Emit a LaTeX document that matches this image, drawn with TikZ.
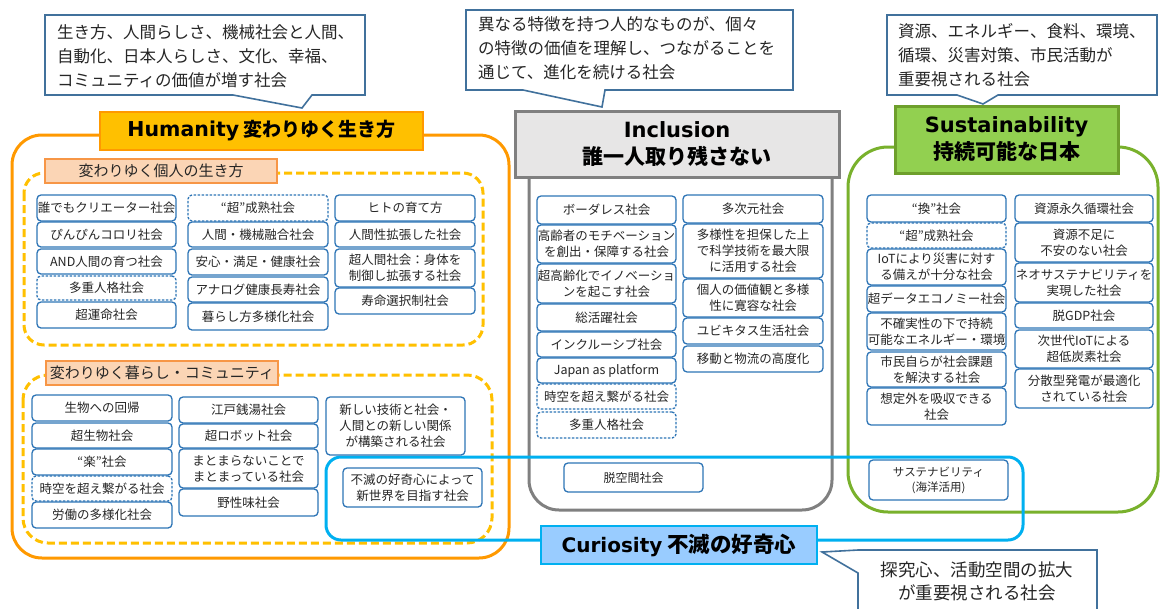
\documentclass[tikz,border=0pt]{standalone}
\usepackage{fontspec}
\setmainfont{Noto Sans CJK JP}
\newfontfamily\latw{DejaVu Sans}
\definecolor{orng}{HTML}{FF9900}
\definecolor{gold}{HTML}{FFC000}
\definecolor{peach}{HTML}{FBD5B5}
\definecolor{peachbd}{HTML}{F79646}
\definecolor{grayfill}{HTML}{E7E6E6}
\definecolor{graybd}{HTML}{808080}
\definecolor{grn}{HTML}{92D050}
\definecolor{grnframe}{HTML}{79B12C}
\definecolor{grnbd}{HTML}{6E9F2C}
\definecolor{cyanbd}{HTML}{00B0F0}
\definecolor{ltblue}{HTML}{99CCFF}
\definecolor{callbd}{HTML}{41719C}
\definecolor{boxbd}{HTML}{2E75B6}
\definecolor{txt}{HTML}{262626}
\newcommand\sbx[7][]{\node[sbox,#1,minimum width={(#5-#3)*1pt},minimum height={(#6-#4)*1pt}] (#2) at ({(#3+#5)/2},{(#4+#6)/2}) {#7};}
\newcommand\tbx[7][]{\node[#1,minimum width={(#5-#3)*1pt},minimum height={(#6-#4)*1pt}] (#2) at ({(#3+#5)/2},{(#4+#6)/2}) {#7};}
\tikzset{
  sbox/.style={draw=boxbd, fill=white, line width=1.3pt, rounded corners=4pt, inner sep=0.5pt, align=center, text=txt, font=\fontsize{12.5}{16}\selectfont},
  dsh/.style={dash pattern=on 2.5pt off 1.5pt},
  calloutline/.style={draw=callbd, fill=white, line width=1.6pt, line join=miter},
  calltext/.style={inner sep=0pt, text=txt, font=\fontsize{16.5}{24}\selectfont},
  bigframe/.style={line width=3pt},
  dashframe/.style={draw=gold, line width=3pt, dash pattern=on 8pt off 4pt},
  subtitle/.style={draw=peachbd, fill=peach, line width=2pt, text=txt, inner sep=0pt, font=\fontsize{15}{18}\selectfont},
  maintitle/.style={inner sep=0pt, align=center, text=black, font=\fontsize{21}{27}\selectfont\bfseries},
}
\begin{document}
\begin{tikzpicture}[x=1pt,y=-1pt]
\useasboundingbox (0,0) rectangle (1161,608);
\fill[white] (0,0) rectangle (1161,608);

% callouts
\path[calloutline] (45,15) -- (365,15) -- (365,95) -- (312,95) -- (302,108) -- (233,95) -- (45,95) -- cycle;
\node[calltext, anchor=west, align=left] (co1) at (57,56) {生き方、人間らしさ、機械社会と人間、\\自動化、日本人らしさ、文化、幸福、\\コミュニティの価値が増す社会};
\path[calloutline] (466,10) -- (793,10) -- (793,90) -- (605,90) -- (602,107) -- (523,90) -- (466,90) -- cycle;
\node[calltext, anchor=west, align=left] (co2) at (478,48.5) {異なる特徴を持つ人的なものが、個々\\の特徴の価値を理解し、つながることを\\通じて、進化を続ける社会};
\path[calloutline] (887,15) -- (1157,15) -- (1157,95) -- (998,95) -- (983,104) -- (957,95) -- (887,95) -- cycle;
\node[calltext, anchor=west, align=left] (co3) at (898,55) {資源、エネルギー、食料、環境、\\循環、災害対策、市民活動が\\重要視される社会};
\path[calloutline] (858,550) -- (1097,550) -- (1097,618) -- (858,618) -- (858,573) -- (822,552) -- cycle;
\node[calltext, align=center, font=\fontsize{17.5}{23}\selectfont] (co4) at (977,581) {探究心、活動空間の拡大\\が重要視される社会};

% big frames
\draw[bigframe, draw=orng, rounded corners=30pt] (12,135) rectangle (509,558);
\draw[bigframe, draw=graybd, rounded corners=30pt] (529,140) rectangle (832,510);
\draw[bigframe, draw=grnframe, rounded corners=40pt] (848,147) rectangle (1158,512);
\draw[dashframe, rounded corners=20pt] (24,173) rectangle (483,345);
\draw[dashframe, rounded corners=25pt] (23,375) rectangle (492,543);
\draw[bigframe, draw=cyanbd, rounded corners=15pt] (326,457) rectangle (1023,540);

% titles
\tbx[maintitle, draw=orng, fill=gold, line width=2.5pt, font=\fontsize{19}{24}\selectfont\bfseries]{tH}{100}{112}{423}{150}{{\latw\fontsize{20.5}{24}\selectfont Humanity} 変わりゆく生き方}
\tbx[maintitle, draw=graybd, fill=grayfill, line width=3pt]{tI}{515}{111}{839}{177}{{\latw Inclusion}\\誰一人取り残さない}
\tbx[maintitle, draw=grnbd, fill=grn, line width=3pt]{tS}{895}{106}{1118}{173}{{\latw Sustainability}\\持続可能な日本}
\tbx[maintitle, draw=cyanbd, fill=ltblue, line width=2.5pt, font=\fontsize{21.5}{27}\selectfont\bfseries]{tC}{541}{526}{817}{564}{{\latw\fontsize{20}{24}\selectfont Curiosity} 不滅の好奇心}
\tbx[subtitle]{st1}{45}{159}{277}{183}{変わりゆく個人の生き方}
\tbx[subtitle]{st2}{46}{361}{278}{385}{変わりゆく暮らし・コミュニティ}

% Humanity: individual
\sbx{h11}{37}{195}{176}{221}{誰でもクリエーター社会}
\sbx{h12}{37}{222}{176}{247}{ぴんぴんコロリ社会}
\sbx{h13}{37}{249}{176}{274}{AND人間の育つ社会}
\sbx[dsh]{h14}{37}{276}{176}{300}{多重人格社会}
\sbx{h15}{37}{302}{176}{328}{超運命社会}
\sbx[dsh]{h21}{188}{195}{328}{221}{“超”成熟社会}
\sbx{h22}{188}{222}{328}{247}{人間・機械融合社会}
\sbx{h23}{188}{249}{328}{275}{安心・満足・健康社会}
\sbx{h24}{188}{277}{328}{302}{アナログ健康長寿社会}
\sbx{h25}{188}{303}{328}{330}{暮らし方多様化社会}
\sbx{h31}{335}{195}{475}{221}{ヒトの育て方}
\sbx{h32}{335}{222}{475}{247}{人間性拡張した社会}
\sbx{h33}{335}{249}{475}{287}{超人間社会：身体を\\制御し拡張する社会}
\sbx{h34}{335}{288}{475}{314}{寿命選択制社会}

% Humanity: community
\sbx{k11}{32}{395}{172}{421}{生物への回帰}
\sbx{k12}{32}{423}{172}{448}{超生物社会}
\sbx{k13}{32}{449}{172}{475}{“楽”社会}
\sbx[dsh]{k14}{32}{476}{172}{501}{時空を超え繋がる社会}
\sbx{k15}{32}{502}{172}{528}{労働の多様化社会}
\sbx{k21}{179}{397}{318}{423}{江戸銭湯社会}
\sbx{k22}{179}{424}{318}{448}{超ロボット社会}
\sbx{k23}{179}{449}{318}{488}{まとまらないことで\\まとまっている社会}
\sbx{k24}{179}{489}{318}{516}{野性味社会}
\sbx{k31}{326}{397}{465}{455}{新しい技術と社会・\\人間との新しい関係\\が構築される社会}
\sbx{c1}{343}{468}{482}{507}{不滅の好奇心によって\\新世界を目指す社会}

% Inclusion
\sbx{i11}{537}{196}{676}{224}{ボーダレス社会}
\sbx{i12}{537}{225}{676}{263}{高齢者のモチベーション\\を創出・保障する社会}
\sbx{i13}{537}{264}{676}{303}{超高齢化でイノベーショ\\ンを起こす社会}
\sbx{i14}{537}{304}{676}{331}{総活躍社会}
\sbx{i15}{537}{332}{676}{357}{インクルーシブ社会}
\sbx{i16}{537}{358}{676}{383}{Japan as platform}
\sbx[dsh]{i17}{537}{384}{676}{409}{時空を超え繋がる社会}
\sbx[dsh]{i18}{537}{412}{676}{438}{多重人格社会}
\sbx{i21}{683}{195}{823}{223}{多次元社会}
\sbx{i22}{683}{224}{823}{278}{多様性を担保した上\\で科学技術を最大限\\に活用する社会}
\sbx{i23}{683}{279}{823}{317}{個人の価値観と多様\\性に寛容な社会}
\sbx{i24}{683}{318}{823}{344}{ユビキタス生活社会}
\sbx{i25}{683}{346}{823}{372}{移動と物流の高度化}
\sbx[font=\fontsize{12}{15}\selectfont]{i31}{564}{463}{703}{492}{脱空間社会}

% Sustainability
\sbx{s11}{867}{195}{1006}{222}{“換”社会}
\sbx[dsh]{s12}{867}{223}{1006}{248}{“超”成熟社会}
\sbx{s13}{867}{249}{1006}{285}{IoTにより災害に対す\\る備えが十分な社会}
\sbx{s14}{867}{286}{1006}{312}{超データエコノミー社会}
\sbx{s15}{867}{313}{1006}{350}{不確実性の下で持続\\可能なエネルギー・環境}
\sbx{s16}{867}{352}{1006}{387}{市民自らが社会課題\\を解決する社会}
\sbx{s17}{867}{388}{1006}{425}{想定外を吸収できる\\社会}
\sbx{s21}{1015}{195}{1153}{222}{資源永久循環社会}
\sbx{s22}{1015}{223}{1153}{262}{資源不足に\\不安のない社会}
\sbx{s23}{1015}{263}{1153}{302}{ネオサステナビリティを\\実現した社会}
\sbx{s24}{1015}{303}{1153}{328}{脱GDP社会}
\sbx{s25}{1015}{330}{1153}{368}{次世代IoTによる\\超低炭素社会}
\sbx{s26}{1015}{369}{1153}{408}{分散型発電が最適化\\されている社会}
\sbx[font=\fontsize{11.5}{15}\selectfont]{s31}{869}{460}{1008}{500}{サステナビリティ\\(海洋活用)}
\end{tikzpicture}
\end{document}
